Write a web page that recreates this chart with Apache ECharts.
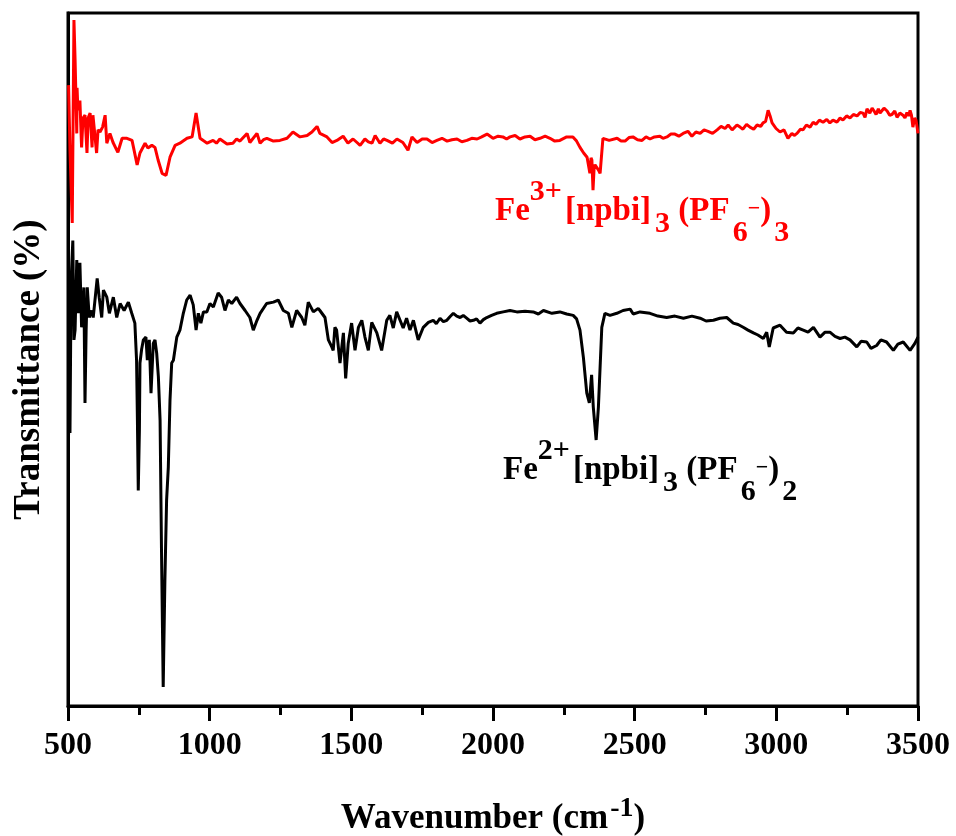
<!DOCTYPE html>
<html>
<head>
<meta charset="utf-8">
<title>FTIR</title>
<script src="https://cdn.jsdelivr.net/npm/echarts@6/dist/echarts.min.js"></script>
<style>
html, body { margin: 0; padding: 0; background: #fff; }
#chart { width: 956px; height: 836px; }
</style>
</head>
<body>
<div id="chart"></div>
<script>
// x axis ticks, wavenumber (cm-1)
var xTicks = [500, 1000, 1500, 2000, 2500, 3000, 3500];
// transmittance has no scale in the figure, values are arbitrary units
var yRange = [0.6, 99.6];

// Fe3+ complex (red), [wavenumber, transmittance]
var fe3Points = [
  [502, 89.3], [507, 80.0], [515, 69.6], [518, 84.3], [521, 98.6], [525, 92.9], [531, 82.4], [532, 88.9],
  [535, 85.7], [542, 87.1], [548, 80.4], [553, 84.6], [560, 85.0], [567, 79.6], [571, 84.6], [578, 85.3],
  [585, 80.4], [588, 85.0], [601, 79.6], [606, 82.9], [613, 82.6], [622, 83.3], [631, 85.0], [637, 81.0],
  [648, 82.4], [659, 81.1], [676, 79.7], [691, 81.7], [708, 81.7], [726, 81.4], [744, 77.9], [754, 79.6],
  [772, 81.0], [782, 80.3], [796, 80.7], [807, 80.4], [818, 78.6], [832, 76.7], [846, 76.4], [860, 79.0],
  [878, 80.7], [895, 81.0], [920, 81.7], [938, 81.9], [952, 85.3], [966, 81.7], [980, 81.3], [991, 81.0],
  [1012, 81.4], [1024, 81.0], [1036, 81.6], [1050, 81.2], [1061, 80.9], [1082, 81.0], [1095, 81.6], [1107, 81.3],
  [1132, 82.4], [1142, 81.1], [1167, 82.4], [1178, 81.0], [1190, 81.5], [1202, 81.7], [1225, 81.3], [1248, 81.4],
  [1273, 81.7], [1294, 82.6], [1319, 81.9], [1344, 82.1], [1361, 82.6], [1379, 83.4], [1389, 82.4], [1414, 81.9],
  [1432, 81.1], [1449, 81.4], [1471, 82.0], [1488, 81.0], [1506, 81.6], [1520, 81.1], [1531, 80.7], [1548, 81.6],
  [1560, 81.2], [1573, 81.0], [1584, 82.1], [1601, 81.0], [1614, 81.6], [1626, 81.4], [1645, 81.0], [1661, 81.6],
  [1682, 81.1], [1700, 80.0], [1714, 81.9], [1732, 81.1], [1750, 81.6], [1767, 81.6], [1785, 81.1], [1802, 81.4],
  [1820, 81.7], [1838, 81.3], [1855, 81.5], [1873, 81.6], [1890, 81.2], [1908, 81.4], [1925, 81.7], [1944, 81.6],
  [1960, 81.9], [1979, 82.3], [2000, 81.7], [2018, 82.0], [2035, 81.9], [2048, 81.6], [2060, 81.9], [2078, 82.1],
  [2095, 81.6], [2113, 81.9], [2131, 82.0], [2148, 81.5], [2166, 81.7], [2184, 82.0], [2201, 81.7], [2218, 81.3],
  [2236, 81.4], [2260, 81.9], [2282, 81.9], [2295, 81.3], [2307, 80.4], [2320, 79.6], [2332, 79.0], [2342, 76.7],
  [2346, 78.9], [2349, 78.6], [2353, 74.3], [2357, 77.6], [2360, 77.9], [2367, 78.1], [2372, 77.2], [2378, 76.7],
  [2388, 81.7], [2410, 81.4], [2438, 81.7], [2452, 81.3], [2466, 81.3], [2480, 81.8], [2494, 81.9], [2510, 81.5],
  [2526, 81.4], [2540, 81.9], [2554, 81.6], [2570, 81.9], [2589, 82.0], [2600, 81.7], [2614, 81.9], [2628, 82.3],
  [2642, 82.3], [2656, 82.0], [2671, 82.4], [2688, 82.7], [2702, 82.0], [2716, 82.6], [2731, 82.4], [2745, 82.9],
  [2759, 82.7], [2775, 82.4], [2791, 82.9], [2805, 83.4], [2819, 83.1], [2830, 83.6], [2844, 82.9], [2861, 83.6],
  [2872, 83.3], [2882, 83.0], [2895, 83.7], [2907, 83.3], [2920, 83.0], [2932, 83.6], [2945, 83.4], [2953, 83.9],
  [2962, 84.1], [2971, 85.7], [2978, 84.9], [2985, 83.9], [2999, 83.1], [3013, 82.6], [3027, 82.9], [3041, 81.7],
  [3055, 82.4], [3063, 82.1], [3073, 82.4], [3085, 83.0], [3094, 82.9], [3106, 83.6], [3119, 83.3], [3130, 84.0],
  [3140, 83.7], [3152, 84.3], [3165, 84.0], [3178, 84.4], [3189, 83.9], [3200, 84.3], [3214, 84.0], [3225, 84.6],
  [3235, 84.3], [3248, 84.9], [3260, 84.6], [3272, 85.1], [3285, 84.9], [3296, 85.4], [3306, 85.3], [3313, 84.7],
  [3320, 85.9], [3330, 85.3], [3338, 86.0], [3345, 85.6], [3352, 85.1], [3360, 85.9], [3366, 85.3], [3374, 85.7],
  [3380, 86.0], [3391, 85.6], [3400, 85.0], [3408, 85.1], [3418, 85.6], [3426, 84.7], [3436, 85.3], [3447, 85.0],
  [3454, 84.6], [3461, 85.4], [3467, 84.9], [3472, 85.7], [3477, 85.0], [3482, 83.3], [3488, 84.6], [3493, 84.3],
  [3500, 82.4]
];

// Fe2+ complex (black)
var fe2Points = [
  [502, 39.3], [505, 58.6], [507, 39.6], [511, 61.4], [517, 67.1], [521, 52.9], [525, 54.3], [531, 64.3],
  [536, 56.7], [542, 63.9], [548, 54.7], [556, 60.4], [560, 43.9], [564, 54.3], [568, 60.4], [575, 56.1],
  [584, 57.1], [589, 56.1], [603, 61.7], [610, 59.0], [619, 56.1], [625, 60.0], [637, 59.0], [646, 56.7],
  [660, 59.0], [672, 56.1], [684, 58.1], [698, 57.1], [713, 58.3], [725, 56.7], [736, 55.3], [742, 50.0],
  [745, 41.4], [748, 31.4], [752, 40.0], [754, 49.6], [760, 51.6], [766, 52.9], [775, 53.3], [780, 50.0],
  [787, 52.9], [793, 45.3], [801, 52.4], [807, 52.9], [813, 51.0], [819, 47.6], [825, 41.4], [830, 22.9],
  [836, 3.3], [842, 18.6], [848, 30.0], [854, 34.7], [860, 44.3], [866, 49.6], [872, 50.0], [884, 53.3],
  [895, 54.3], [907, 56.7], [919, 58.6], [931, 59.3], [942, 57.9], [952, 54.3], [960, 56.7], [969, 55.3],
  [978, 56.9], [990, 56.9], [1001, 58.1], [1013, 57.6], [1030, 59.6], [1042, 59.0], [1054, 57.1], [1066, 58.6],
  [1078, 58.1], [1095, 59.0], [1107, 58.1], [1125, 57.1], [1142, 56.1], [1154, 54.3], [1167, 55.7], [1178, 56.7],
  [1201, 58.1], [1225, 58.3], [1242, 58.6], [1260, 57.1], [1278, 56.7], [1290, 54.7], [1307, 57.1], [1325, 56.1],
  [1336, 55.0], [1348, 58.3], [1366, 56.9], [1383, 57.4], [1389, 57.1], [1407, 56.1], [1419, 52.9], [1431, 51.9],
  [1436, 51.4], [1442, 54.7], [1448, 54.3], [1460, 49.6], [1472, 53.9], [1480, 47.4], [1489, 52.4], [1501, 55.3],
  [1513, 51.4], [1525, 54.7], [1537, 55.7], [1548, 53.3], [1560, 51.4], [1572, 55.4], [1590, 53.9], [1607, 51.4],
  [1625, 55.7], [1636, 56.4], [1648, 54.6], [1660, 56.9], [1672, 55.7], [1683, 54.6], [1695, 56.0], [1707, 54.3],
  [1719, 55.7], [1736, 52.9], [1754, 54.7], [1772, 55.4], [1789, 55.7], [1800, 55.2], [1813, 56.0], [1825, 55.5],
  [1837, 55.7], [1848, 56.2], [1860, 56.7], [1872, 56.3], [1884, 56.1], [1895, 56.4], [1907, 56.0], [1919, 55.6],
  [1931, 55.7], [1942, 55.9], [1954, 55.3], [1966, 55.8], [1978, 56.1], [1995, 56.4], [2013, 56.7], [2036, 56.9],
  [2060, 57.1], [2084, 56.9], [2113, 57.0], [2142, 56.9], [2160, 56.6], [2178, 57.1], [2208, 56.7], [2236, 56.9],
  [2260, 56.6], [2283, 56.4], [2295, 55.9], [2307, 54.3], [2319, 50.4], [2331, 45.3], [2340, 43.9], [2348, 47.9],
  [2354, 43.3], [2364, 38.6], [2372, 43.3], [2384, 54.7], [2395, 56.7], [2413, 56.4], [2437, 56.7], [2459, 57.1],
  [2484, 57.3], [2495, 56.6], [2519, 56.9], [2554, 56.7], [2582, 56.3], [2613, 56.1], [2642, 56.3], [2672, 56.0],
  [2702, 56.3], [2731, 56.0], [2752, 55.6], [2778, 55.7], [2801, 56.0], [2825, 56.1], [2848, 55.3], [2865, 55.1],
  [2883, 54.7], [2900, 54.3], [2919, 53.9], [2935, 53.6], [2954, 53.1], [2966, 54.0], [2975, 51.9], [2989, 54.6],
  [3013, 55.0], [3036, 54.0], [3060, 53.9], [3076, 54.6], [3095, 54.3], [3112, 54.0], [3131, 54.7], [3154, 53.3],
  [3172, 54.0], [3189, 54.0], [3207, 53.4], [3225, 53.1], [3242, 53.3], [3260, 52.9], [3284, 51.9], [3299, 52.7],
  [3319, 52.6], [3334, 51.7], [3354, 52.1], [3369, 52.9], [3389, 52.6], [3413, 51.4], [3429, 52.3], [3448, 52.6],
  [3472, 51.4], [3489, 52.4], [3500, 53.3]
];

var serif = '"Liberation Serif", "Times New Roman", serif';
var red = '#ff0000';

// rich text for the complex labels (super/subscripts)
function formula(charge, count) {
  return '{m|Fe}{sup|' + charge + '}{m|[npbi]}{sub|3}{m| (PF}{sub6|6}{minus|\u2212}{m|)}{sub6|' + count + '}';
}
function formulaRich(color) {
  var base = { fontFamily: serif, fontWeight: 'bold', fill: color, verticalAlign: 'middle' };
  return {
    m: Object.assign({}, base, { fontSize: 33 }),
    sup: Object.assign({}, base, { fontSize: 30, padding: [0, 3, 38, 0] }),
    sub: Object.assign({}, base, { fontSize: 30, padding: [26, 0, 0, 4] }),
    sub6: Object.assign({}, base, { fontSize: 30, padding: [44, 0, 0, 3] }),
    minus: Object.assign({}, base, { fontSize: 22, padding: [0, 0, 4, 0] })
  };
}

var chart = echarts.init(document.getElementById('chart'));

var option = {
  animation: false,
  backgroundColor: '#fff',
  grid: {
    left: 68, right: 38, top: 13, bottom: 130,
    show: true, borderColor: '#000', borderWidth: 3,
    outerBoundsMode: 'none'
  },
  xAxis: {
    type: 'value',
    min: xTicks[0],
    max: xTicks[xTicks.length - 1],
    interval: xTicks[1] - xTicks[0],
    axisLine: { show: true, onZero: false, lineStyle: { color: '#000', width: 3 } },
    axisTick: { show: true, inside: false, length: 15, lineStyle: { color: '#000', width: 3 } },
    minorTick: { show: true, splitNumber: 2, length: 9, lineStyle: { color: '#000', width: 3 } },
    splitLine: { show: false },
    axisLabel: {
      color: '#000', fontSize: 32, fontWeight: 'bold', fontFamily: serif, margin: 24,
      showMinLabel: true, showMaxLabel: true, hideOverlap: false,
      formatter: function (v) { return String(v); }
    },
    name: '{m|Wavenumber (cm}{sup|-1}{m|)}',
    nameLocation: 'middle',
    nameGap: 89,
    nameTextStyle: {
      rich: {
        m: { fontSize: 35, fontWeight: 'bold', fontFamily: serif, color: '#000', verticalAlign: 'middle' },
        sup: { fontSize: 28, fontWeight: 'bold', fontFamily: serif, color: '#000', verticalAlign: 'middle', padding: [0, 0, 20, 2] }
      }
    }
  },
  yAxis: {
    type: 'value',
    min: yRange[0],
    max: yRange[1],
    axisLine: { show: true, onZero: false, lineStyle: { color: '#000', width: 3 } },
    axisTick: { show: false },
    axisLabel: { show: false },
    splitLine: { show: false },
    name: 'Transmittance (%)',
    nameLocation: 'middle',
    nameGap: 20,
    nameTextStyle: {
      fontSize: 37, fontWeight: 'bold', fontFamily: serif, color: '#000',
      padding: [0, 20, 0, 0]
    }
  },
  series: [
    {
      name: 'Fe2+',
      type: 'line',
      data: fe2Points,
      symbol: 'none',
      lineStyle: { color: '#000', width: 3 },
      z: 2
    },
    {
      name: 'Fe3+',
      type: 'line',
      data: fe3Points,
      symbol: 'none',
      lineStyle: { color: red, width: 3 },
      z: 3
    }
  ],
  graphic: [
    {
      type: 'text', x: 495, y: 211, z: 10,
      style: {
        text: formula('3+', 3), rich: formulaRich(red), fill: red,
        font: 'bold 33px ' + serif,
        verticalAlign: 'middle', textVerticalAlign: 'middle'
      }
    },
    {
      type: 'text', x: 503, y: 470, z: 10,
      style: {
        text: formula('2+', 2), rich: formulaRich('#000'), fill: '#000',
        font: 'bold 33px ' + serif,
        verticalAlign: 'middle', textVerticalAlign: 'middle'
      }
    }
  ]
};

chart.setOption(option);
</script>
</body>
</html>
